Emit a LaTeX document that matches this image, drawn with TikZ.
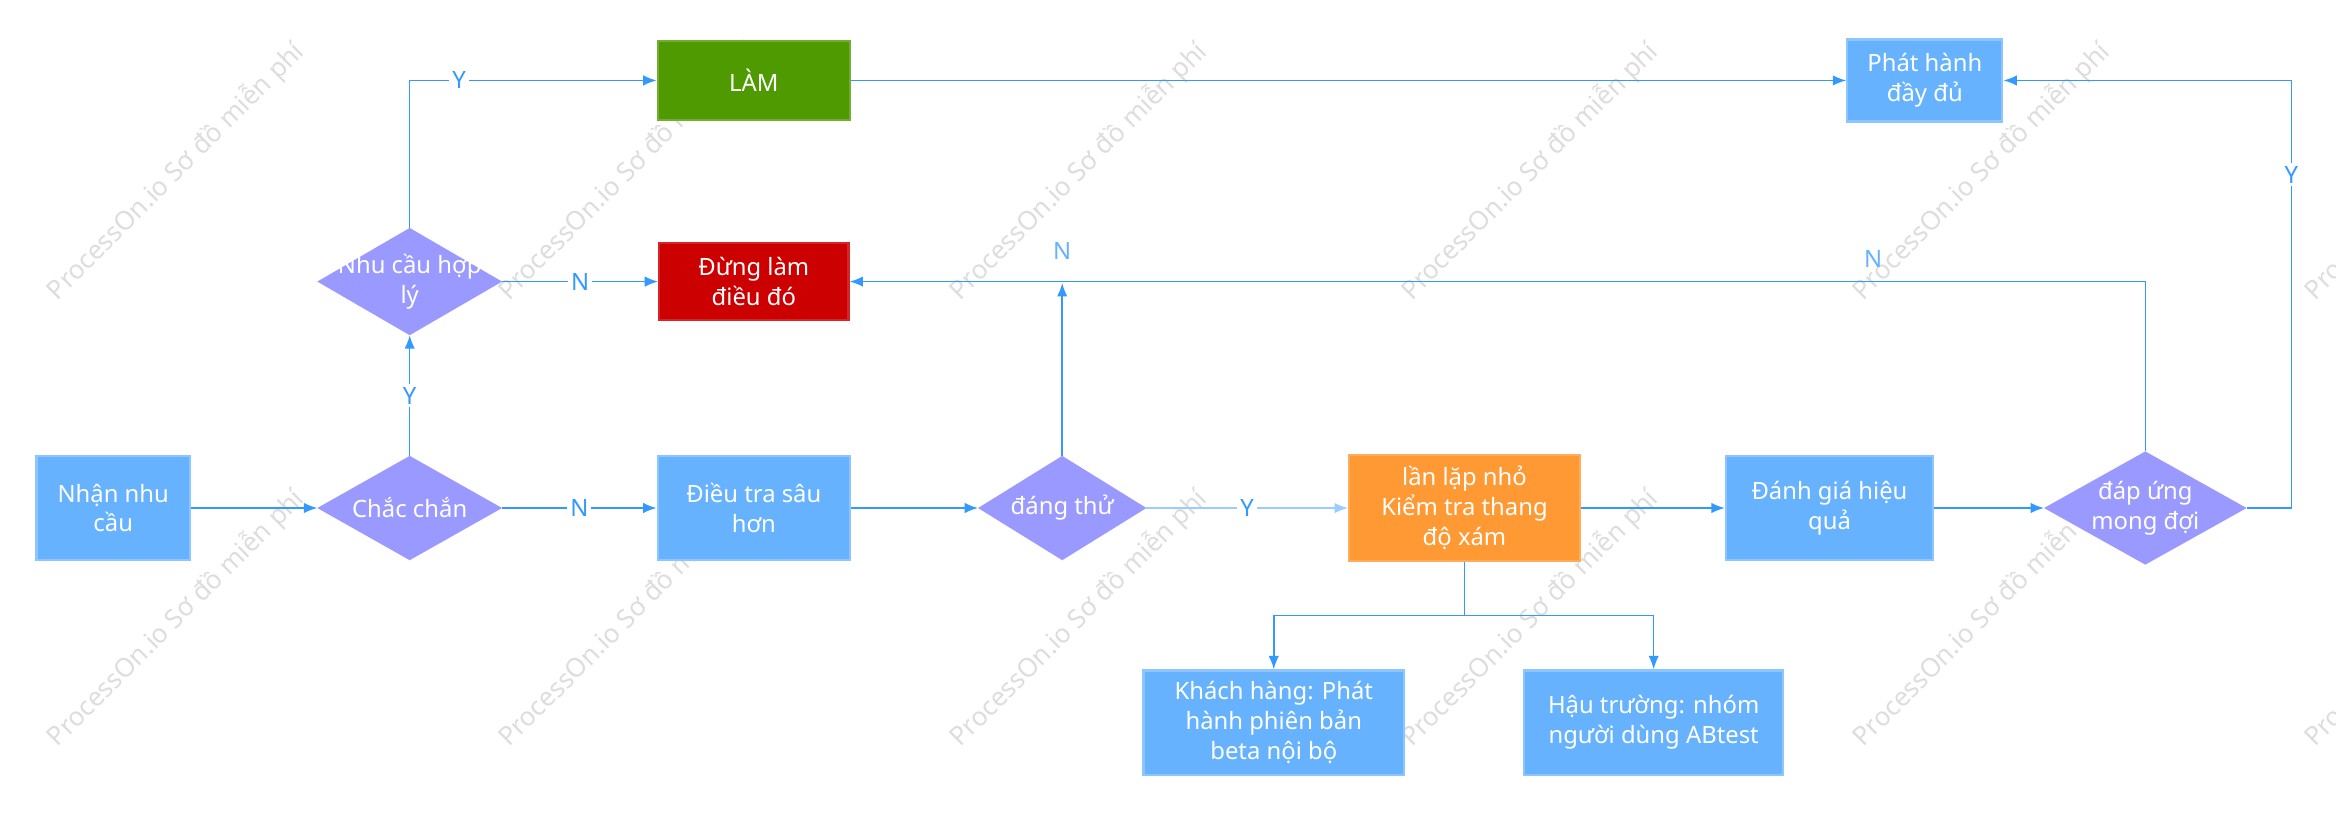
\documentclass[tikz,border=0pt]{standalone}
\usepackage{fontspec}
\setmainfont{Noto Sans}
\usetikzlibrary{shapes.geometric,arrows.meta}

\definecolor{flowblue}{HTML}{3399FF}
\definecolor{paleblue}{HTML}{99CCFF}
\definecolor{boxfill}{HTML}{66B2FF}
\definecolor{boxedge}{HTML}{8DC5FF}
\definecolor{dfill}{HTML}{9999FF}
\definecolor{dogreen}{HTML}{4F9A00}
\definecolor{stopred}{HTML}{CC0000}
\definecolor{iterorange}{HTML}{FF9933}
\definecolor{wmgray}{HTML}{DDDDDD}

\tikzset{
  txt/.style={font=\fontsize{16}{20}\selectfont},
  box/.style={txt, draw=boxedge, fill=boxfill, line width=1.5pt, text=white, align=center, inner sep=0pt},
  decision/.style={diamond, fill=dfill, inner sep=0pt, outer sep=0pt},
  dtext/.style={txt, text=white, align=center, inner sep=0pt},
  flow/.style={draw=flowblue, line width=1pt, -{Latex[length=9pt,width=7pt]}},
  yn/.style={txt, fill=white, text=flowblue, inner sep=2pt},
  nlabel/.style={txt, text=boxfill, inner sep=0pt},
  wmark/.style={font=\fontsize{17.5}{20}\selectfont, text=wmgray, rotate=45}
}

\begin{document}
\begin{tikzpicture}[x=1pt,y=-1pt]
  \useasboundingbox (0,0) rectangle (1568,546);
  \foreach \i in {0,...,5} {
    \node[wmark] (wmA\i) at (118+303*\i,115) {ProcessOn.io Sơ đồ miễn phí};
    \node[wmark] (wmB\i) at (118+303*\i,415) {ProcessOn.io Sơ đồ miễn phí};
  }

  \node[box, minimum width=103, minimum height=70] (need) at (76,341) {Nhận nhu\\cầu};
  \node[decision, minimum width=124, minimum height=70] (sure) at (275,341) {};
  \node[dtext] (sureT) at (sure) {Chắc chắn};
  \node[decision, minimum width=124, minimum height=72] (fit) at (275,189) {};
  \node[dtext] (fitT) at (fit) {Nhu cầu hợp\\lý};
  \node[box, fill=dogreen, draw=dogreen!80!white, minimum width=129, minimum height=53] (do) at (506,54) {LÀM};
  \node[box, fill=stopred, draw=stopred!85!white, minimum width=127, minimum height=52] (stop) at (506,189) {Đừng làm\\điều đó};
  \node[box, minimum width=129, minimum height=70] (dig) at (506,341) {Điều tra sâu\\hơn};
  \node[decision, minimum width=113, minimum height=70] (worth) at (713,341) {};
  \node[dtext] (worthT) at (worth) {đáng thử};
  \node[box, fill=iterorange, draw=iterorange!80!white, minimum width=155, minimum height=71] (iter) at (983,341) {lần lặp nhỏ\\Kiểm tra thang\\độ xám};
  \node[box, minimum width=139, minimum height=70] (assess) at (1228,341) {Đánh giá hiệu\\quả};
  \node[decision, minimum width=136, minimum height=76] (meet) at (1440,341) {};
  \node[dtext] (meetT) at (meet) {đáp ứng\\mong đợi};
  \node[box, minimum width=104, minimum height=55] (release) at (1292,54) {Phát hành\\đầy đủ};
  \node[box, minimum width=175, minimum height=70] (client) at (855,485) {Khách hàng: Phát\\hành phiên bản\\beta nội bộ};
  \node[box, minimum width=174, minimum height=70] (backend) at (1110,485) {Hậu trường: nhóm\\người dùng ABtest};

  \coordinate (nTip) at (713,190);
  \coordinate (split) at (983,413);

  \draw[flow] (need) -- (sure);
  \draw[flow] (sure) -- node[yn]{N} (dig);
  \draw[flow] (sure) -- node[yn]{Y} (fit);
  \draw[flow] (fit) -- node[yn]{N} (stop);
  \draw[flow] (fit.north) |- node[yn, pos=0.6]{Y} (do.west);
  \draw[flow] (do) -- (release);
  \draw[flow] (dig) -- (worth);
  \draw[flow] (worth.north) -- (nTip) node[nlabel, above=15pt]{N};
  \draw[flow, draw=paleblue] (worth) -- node[yn]{Y} (iter);
  \draw[flow] (iter) -- (assess);
  \draw[flow] (assess) -- (meet);
  \draw[draw=flowblue, line width=1pt] (iter) -- (split);
  \draw[flow] (split) -| (client);
  \draw[flow] (split) -| (backend);
  \draw[flow] (meet.north) |- node[nlabel, pos=0.605, above=9pt]{N} (stop.east);
  \draw[flow] (meet.east) -- ++(30,0) |- node[yn, pos=0.39]{Y} (release.east);
\end{tikzpicture}
\end{document}
